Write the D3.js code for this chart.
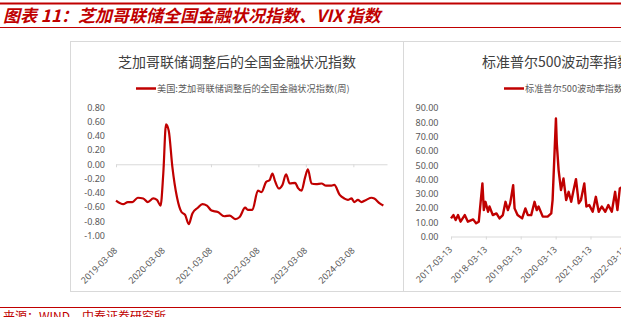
<!DOCTYPE html>
<html>
<head>
<meta charset="utf-8">
<script src="https://cdn.jsdelivr.net/npm/d3@7"></script>
<style>
  body { margin: 0; background: #fff; overflow: hidden; }
  svg { display: block; font-family: "Noto Sans CJK SC", "Noto Sans", sans-serif; }
</style>
</head>
<body>
<svg id="chart" width="621" height="317"></svg>
<script>
// NFCI (weekly)
const nfciDates = [
  "2019-03-08","2019-05-03","2019-06-07","2019-07-12","2019-08-23","2019-10-04","2019-11-08","2019-12-20",
  "2020-01-17","2020-02-14","2020-03-06","2020-03-27","2020-04-17","2020-05-15","2020-06-19","2020-07-24",
  "2020-08-21","2020-09-18","2020-10-16","2020-11-27","2021-01-01","2021-02-05","2021-03-12","2021-04-30",
  "2021-06-18","2021-07-30","2021-09-10","2021-10-15","2021-11-26","2021-12-17","2022-01-21","2022-03-04",
  "2022-04-01","2022-05-06","2022-06-03","2022-06-24","2022-07-15","2022-08-12","2022-09-09","2022-10-07",
  "2022-11-04","2022-12-16","2023-01-06","2023-02-03","2023-03-03","2023-03-24","2023-04-21","2023-05-26",
  "2023-07-07","2023-08-11","2023-09-22","2023-10-13","2023-11-24","2023-12-29","2024-01-26","2024-02-23",
  "2024-03-15","2024-04-12","2024-05-10","2024-06-14","2024-07-26","2024-08-16","2024-09-27","2024-10-25"
];
const nfciValues = [
  -0.51,-0.56,-0.53,-0.53,-0.47,-0.48,-0.53,-0.48,
  -0.50,-0.58,-0.13,0.56,0.47,-0.04,-0.46,-0.67,
  -0.71,-0.84,-0.69,-0.61,-0.56,-0.58,-0.65,-0.67,
  -0.73,-0.72,-0.77,-0.74,-0.61,-0.64,-0.64,-0.37,
  -0.39,-0.25,-0.22,-0.13,-0.24,-0.34,-0.29,-0.14,
  -0.27,-0.26,-0.33,-0.37,-0.18,-0.07,-0.27,-0.28,
  -0.27,-0.30,-0.30,-0.29,-0.43,-0.48,-0.50,-0.48,
  -0.53,-0.50,-0.53,-0.50,-0.47,-0.48,-0.55,-0.58
];
const nfciTicks = [-1.0, -0.8, -0.6, -0.4, -0.2, 0.0, 0.2, 0.4, 0.6, 0.8];
const nfciYears = ["2019-03-08","2020-03-08","2021-03-08","2022-03-08","2023-03-08","2024-03-08"];

// VIX
const vixDates = [
  "2017-03-13","2017-04-07","2017-05-01","2017-05-26","2017-06-21","2017-08-04","2017-09-06","2017-10-31",
  "2017-12-01","2017-12-29","2018-02-05","2018-02-20","2018-03-09","2018-04-05","2018-04-20","2018-05-25",
  "2018-07-02","2018-08-03","2018-09-07","2018-10-05","2018-10-30","2018-11-23","2018-12-24","2019-01-08",
  "2019-02-08","2019-03-28","2019-05-01","2019-05-27","2019-07-01","2019-08-05","2019-08-28","2019-09-16",
  "2019-10-30","2019-12-20","2020-01-27","2020-02-10","2020-03-16","2020-03-25","2020-04-13","2020-05-08",
  "2020-06-03","2020-07-01","2020-07-27","2020-08-23","2020-09-17","2020-10-12","2020-11-10","2020-12-03",
  "2021-01-07","2021-01-29","2021-02-28","2021-04-05","2021-05-08","2021-06-07","2021-07-09","2021-08-15",
  "2021-09-16","2021-10-22","2021-11-26","2021-12-20","2022-01-14","2022-03-07"
];
const vixValues = [
  12.7,15.0,11.5,15.0,10.4,15.0,10.4,12.0,
  9.2,10.4,37.2,18.5,24.3,17.3,21.0,15.0,
  16.2,12.7,15.0,24.3,18.5,23.2,36.0,19.7,
  15.0,12.7,19.7,15.0,15.0,24.3,18.5,21.0,
  13.9,13.9,16.2,25.5,82.7,65.0,46.5,32.5,
  40.7,25.5,31.3,24.3,32.5,40.2,23.2,25.5,
  37.2,21.0,22.0,17.3,27.8,17.3,21.0,17.3,
  22.0,17.3,31.3,18.5,33.7,36.0
];
const vixTicks = [0, 10, 20, 30, 40, 50, 60, 70, 80, 90];
const vixYears = ["2017-03-13","2018-03-13","2019-03-13","2020-03-13","2021-03-13","2022-03-13","2023-03-13","2024-03-13"];

const RED = "#c00000";
const GRID = "#d9d9d9";
const TXT = "#595959";
const parse = d3.timeParse("%Y-%m-%d");

const svg = d3.select("#chart");

// header / footer
svg.append("rect").attr("x", 0).attr("y", 2.5).attr("width", 621).attr("height", 2).attr("fill", RED);
svg.append("text")
  .attr("x", 3).attr("y", 22)
  .attr("font-size", 17).attr("font-style", "italic").attr("font-weight", "bold")
  .attr("fill", RED)
  .text("图表 11：芝加哥联储全国金融状况指数、VIX 指数");
svg.append("line").attr("x1", 0).attr("x2", 621).attr("y1", 27.5).attr("y2", 27.5)
  .attr("stroke", RED).attr("stroke-width", 1);
svg.append("line").attr("x1", 0).attr("x2", 621).attr("y1", 307.5).attr("y2", 307.5)
  .attr("stroke", RED).attr("stroke-width", 1);
svg.append("text")
  .attr("x", 3).attr("y", 321)
  .attr("font-size", 12).attr("fill", RED)
  .text("来源：WIND，中泰证券研究所");

// panel frames
svg.append("rect").attr("x", 70.5).attr("y", 41.5).attr("width", 333).attr("height", 250)
  .attr("fill", "none").attr("stroke", GRID);
svg.append("rect").attr("x", 403.5).attr("y", 41.5).attr("width", 333).attr("height", 250)
  .attr("fill", "none").attr("stroke", GRID);

const drawPanel = (o) => {
  const g = svg.append("g");

  g.append("text")
    .attr("x", o.titleX).attr("y", 67)
    .attr("text-anchor", o.titleAnchor)
    .attr("font-size", 14).attr("fill", "#404040")
    .text(o.title);

  g.append("line")
    .attr("x1", o.legX).attr("x2", o.legX + 20)
    .attr("y1", 88.5).attr("y2", 88.5)
    .attr("stroke", RED).attr("stroke-width", 2.5);
  g.append("text")
    .attr("x", o.legX + 21).attr("y", 91.5)
    .attr("font-size", 9.2).attr("fill", TXT)
    .text(o.legend);

  // y labels
  const yAxis = g.append("g")
    .attr("transform", `translate(${o.yLabelX},0)`)
    .call(d3.axisLeft(o.y).tickValues(o.yTicks).tickSize(0).tickPadding(0)
      .tickFormat(d => d.toFixed(2)));
  yAxis.select(".domain").remove();
  yAxis.selectAll("text").attr("font-size", 9).attr("fill", TXT)
    .attr("font-family", "\"Noto Sans\", sans-serif");

  // x axis line with ticks
  const xAxis = g.append("g")
    .attr("transform", `translate(0,${o.y(o.axisAt)})`)
    .call(d3.axisBottom(o.x).tickValues(o.xTicks.map(parse)).tickSize(3).tickSizeOuter(0).tickFormat(""));
  xAxis.select(".domain").attr("stroke", GRID);
  xAxis.selectAll(".tick line").attr("stroke", GRID);

  // rotated date labels at the bottom
  g.append("g").selectAll("text")
    .data(o.xTicks)
    .enter()
    .append("text")
    .attr("transform", d => `translate(${o.x(parse(d)) + 2},${o.labelY}) rotate(-45)`)
    .attr("text-anchor", "end")
    .attr("font-size", 9).attr("fill", TXT)
    .attr("font-family", "\"Noto Sans\", sans-serif")
    .text(d => d);

  const line = d3.line()
    .x(d => o.x(parse(d[0])))
    .y(d => o.y(d[1]))
    .curve(o.curve);

  g.append("path")
    .datum(o.dates.map((d, i) => [d, o.values[i]]))
    .attr("d", line)
    .attr("fill", "none")
    .attr("stroke", RED)
    .attr("stroke-width", o.width)
    .attr("stroke-linejoin", "round");
};

drawPanel({
  title: "芝加哥联储调整后的全国金融状况指数",
  titleX: 237, titleAnchor: "middle",
  legend: "美国:芝加哥联储调整后的全国金融状况指数(周)",
  legX: 136,
  x: d3.scaleTime().domain([parse("2019-03-08"), parse("2024-11-22")]).range([116, 387]),
  y: d3.scaleLinear().domain([-1, 0.8]).range([235.5, 107.3]),
  yTicks: nfciTicks, yLabelX: 105,
  xTicks: nfciYears, axisAt: 0, labelY: 251,
  dates: nfciDates, values: nfciValues,
  curve: d3.curveMonotoneX, width: 2.2
});

drawPanel({
  title: "标准普尔500波动率指数",
  titleX: 482, titleAnchor: "start",
  legend: "标准普尔500波动率指数",
  legX: 504,
  x: d3.scaleTime().domain([parse("2017-03-13"), parse("2024-11-22")]).range([451, 719.4]),
  y: d3.scaleLinear().domain([0, 90]).range([236.5, 108]),
  yTicks: vixTicks, yLabelX: 438.5,
  xTicks: vixYears, axisAt: 0, labelY: 250,
  dates: vixDates, values: vixValues,
  curve: d3.curveLinear, width: 2.4
});
</script>
</body>
</html>
